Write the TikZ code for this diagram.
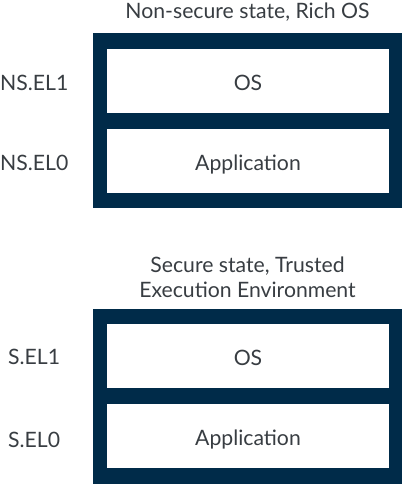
\documentclass[tikz,border=0pt]{standalone}
\usepackage{fontspec}
\setmainfont{Lato}
\usetikzlibrary{positioning,backgrounds}
\definecolor{armnavy}{HTML}{002B49}
\definecolor{txtgray}{HTML}{383D42}

\begin{document}
\begin{tikzpicture}[
  x=1pt, y=-1pt,
  font=\fontsize{21.2}{25}\selectfont,
  frame/.style={fill=armnavy, minimum width=309pt, minimum height=175pt, inner sep=0pt},
  level/.style={fill=white, minimum width=282pt, minimum height=64pt, text=txtgray, inner sep=0pt,
    text height=19pt, text depth=0pt},
  elabel/.style={text=txtgray, anchor=west, inner sep=0pt},
  title/.style={text=txtgray, align=center, inner sep=0pt}
]
\useasboundingbox (0,0) rectangle (411,492);

% Non-secure state
\node[title] (nstitle) at (247.5, 12) {Non-secure state, Rich OS};
\node[frame] (nsframe) at (247.5, 120.5) {};
\node[level] (nsos)  at (248, 81)  {OS};
\node[level] (nsapp) at (248, 161) {Application};
\node[elabel] (nsel1) at (0, 83)  {NS.EL1};
\node[elabel] (nsel0) at (0, 163) {NS.EL0};

% Secure state
\node[title] (stitle) at (247.5, 277.5) {Secure state, Trusted\\Execution Environment};
\node[frame] (sframe) at (247.5, 396) {};
\node[level] (sos)  at (248, 356) {OS};
\node[level] (sapp) at (248, 436) {Application};
\node[elabel] (sel1) at (8, 357) {S.EL1};
\node[elabel] (sel0) at (8, 440) {S.EL0};
\end{tikzpicture}
\end{document}
